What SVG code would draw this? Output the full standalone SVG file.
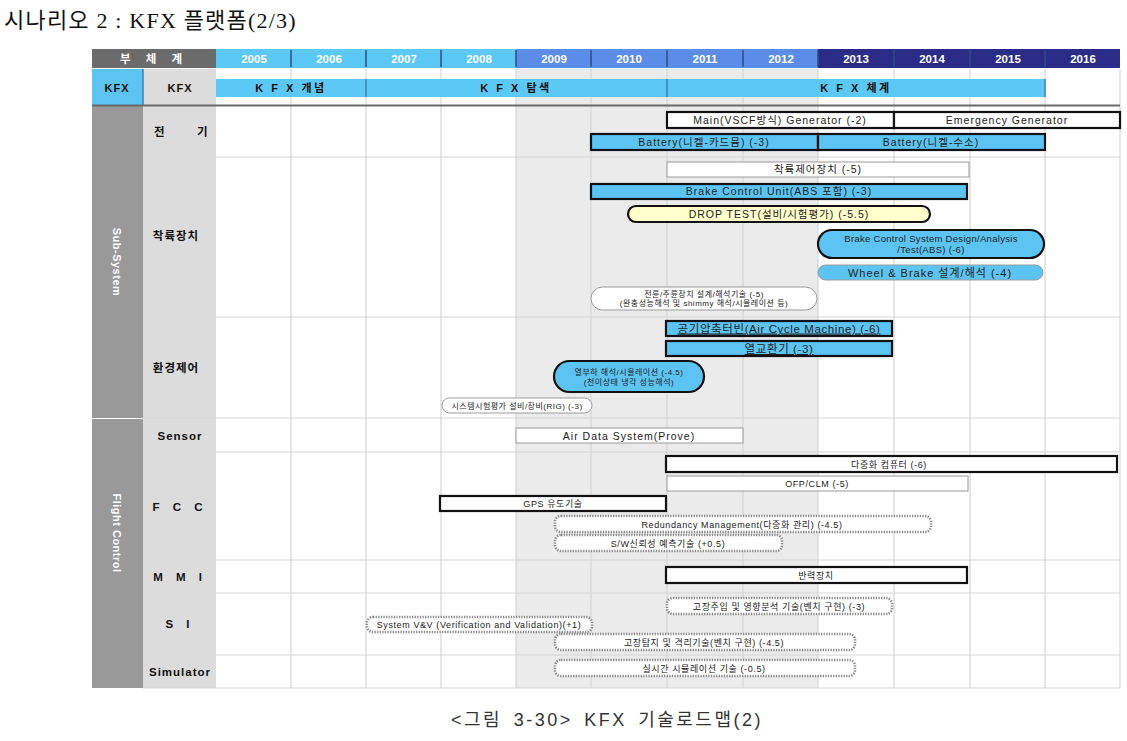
<svg xmlns="http://www.w3.org/2000/svg" width="1127" height="741" viewBox="0 0 1127 741">
<style>
.t{font-family:"Liberation Sans","Noto Sans CJK KR",sans-serif;font-size:10.5px;fill:#222;text-anchor:middle;letter-spacing:1px}
.s{font-family:"Liberation Sans","Noto Sans CJK KR",sans-serif;font-size:9px;fill:#222;text-anchor:middle;letter-spacing:0.6px}
.xs{font-family:"Liberation Sans","Noto Sans CJK KR",sans-serif;font-size:8px;fill:#222;text-anchor:middle;letter-spacing:0.5px}
.yr{font-family:"Liberation Sans","Noto Sans CJK KR",sans-serif;font-size:11.5px;font-weight:bold;fill:#fff;text-anchor:middle}
.lb{font-family:"Liberation Sans","Noto Sans CJK KR",sans-serif;font-size:11.5px;font-weight:bold;fill:#111;text-anchor:middle;letter-spacing:1px}
.kb{font-family:"Liberation Sans","Noto Sans CJK KR",sans-serif;font-size:11px;font-weight:bold;fill:#111;text-anchor:middle;letter-spacing:1px}
.vb{font-family:"Liberation Sans","Noto Sans CJK KR",sans-serif;font-size:11px;font-weight:bold;fill:#fff;text-anchor:middle;letter-spacing:0.5px}
.g{stroke:#d6d6d6;stroke-width:1.2}
.thick{stroke:#111;stroke-width:2.2}
.thin{stroke:#9a9a9a;stroke-width:1}
.blue{fill:#5cc4f2}
.white{fill:#fff}
.dot{fill:#fff;stroke:#8a8a8a;stroke-width:2.6;stroke-dasharray:1.3 1.3}
</style>
<rect width="1127" height="741" fill="#fff"/>
<text x="4" y="28" style="font-family:'Liberation Serif','Noto Sans CJK KR',serif;font-size:22px;letter-spacing:1.2px;fill:#111">시나리오 2 : KFX 플랫폼(2/3)</text>

<!-- background structure -->
<g id="grid">
<rect x="516" y="69" width="302" height="619" fill="#ebebeb"/>
<rect x="92" y="106" width="51" height="312" fill="#999"/>
<rect x="92" y="419" width="51" height="269" fill="#999"/>
<rect x="143" y="69" width="73" height="619" fill="#dcdcdc"/>
<rect x="92" y="69" width="51" height="36" fill="#5cc4f2"/>
<line x1="143" y1="69" x2="143" y2="105" stroke="#2f86b8" stroke-width="1.5"/>
<g class="g">
<line x1="291" y1="69" x2="291" y2="688"/><line x1="366" y1="69" x2="366" y2="688"/>
<line x1="441" y1="69" x2="441" y2="688"/><line x1="516" y1="69" x2="516" y2="688"/>
<line x1="591" y1="69" x2="591" y2="688"/><line x1="667" y1="69" x2="667" y2="688"/>
<line x1="743" y1="69" x2="743" y2="688"/><line x1="818" y1="69" x2="818" y2="688"/>
<line x1="894" y1="69" x2="894" y2="688"/><line x1="970" y1="69" x2="970" y2="688"/>
<line x1="1045" y1="69" x2="1045" y2="688"/><line x1="1120" y1="69" x2="1120" y2="688"/>
<line x1="216" y1="157" x2="1120" y2="157"/><line x1="216" y1="317" x2="1120" y2="317"/>
<line x1="143" y1="418" x2="1120" y2="418"/><line x1="216" y1="452" x2="1120" y2="452"/>
<line x1="216" y1="560" x2="1120" y2="560"/><line x1="216" y1="593" x2="1120" y2="593"/>
<line x1="216" y1="655" x2="1120" y2="655"/><line x1="143" y1="688" x2="1120" y2="688"/>
</g>
<line x1="92" y1="105.5" x2="1120" y2="105.5" stroke="#6a6a6a" stroke-width="2"/>
</g>

<!-- header -->
<g id="header">
<rect x="92" y="49" width="124" height="19" fill="#6b6b6b"/>
<text x="154" y="63" class="yr" style="letter-spacing:6px">부 체 계</text>
<g fill="#5cc8f5">
<rect x="216" y="49" width="75" height="19"/><rect x="291" y="49" width="75" height="19"/>
<rect x="366" y="49" width="75" height="19"/><rect x="441" y="49" width="75" height="19"/>
</g>
<g fill="#5a8ce8">
<rect x="516" y="49" width="75" height="19"/><rect x="591" y="49" width="76" height="19"/>
<rect x="667" y="49" width="76" height="19"/><rect x="743" y="49" width="75" height="19"/>
</g>
<g fill="#2b2b88">
<rect x="818" y="49" width="76" height="19"/><rect x="894" y="49" width="76" height="19"/>
<rect x="970" y="49" width="75" height="19"/><rect x="1045" y="49" width="75" height="19"/>
</g>
<g stroke="#2a4f8a" stroke-width="1.5">
<line x1="291" y1="50" x2="291" y2="67"/><line x1="366" y1="50" x2="366" y2="67"/><line x1="441" y1="50" x2="441" y2="67"/>
<line x1="516" y1="50" x2="516" y2="67"/><line x1="591" y1="50" x2="591" y2="67"/><line x1="667" y1="50" x2="667" y2="67"/>
<line x1="743" y1="50" x2="743" y2="67"/><line x1="818" y1="50" x2="818" y2="67"/><line x1="894" y1="50" x2="894" y2="67"/>
<line x1="970" y1="50" x2="970" y2="67"/><line x1="1045" y1="50" x2="1045" y2="67"/>
</g>
<text x="254" y="63" class="yr">2005</text><text x="329" y="63" class="yr">2006</text>
<text x="404" y="63" class="yr">2007</text><text x="479" y="63" class="yr">2008</text>
<text x="554" y="63" class="yr">2009</text><text x="629" y="63" class="yr">2010</text>
<text x="705" y="63" class="yr">2011</text><text x="781" y="63" class="yr">2012</text>
<text x="856" y="63" class="yr">2013</text><text x="932" y="63" class="yr">2014</text>
<text x="1008" y="63" class="yr">2015</text><text x="1083" y="63" class="yr">2016</text>
</g>

<!-- KFX row -->
<g id="kfx">
<text x="117" y="92" class="kb">KFX</text>
<text x="180" y="92" class="kb">KFX</text>
<rect x="216" y="79" width="150" height="18" fill="#5cc8f5"/>
<rect x="366" y="79" width="301" height="18" fill="#5cc8f5"/>
<rect x="667" y="79" width="378" height="18" fill="#5cc8f5"/>
<g stroke="#3a7fb0" stroke-width="1.5"><line x1="366" y1="79" x2="366" y2="97"/><line x1="667" y1="79" x2="667" y2="97"/><line x1="1045" y1="79" x2="1045" y2="97"/></g>
<text x="291" y="92" class="kb" style="letter-spacing:2.5px">K F X 개념</text>
<text x="516" y="92" class="kb" style="letter-spacing:2.5px">K F X 탐색</text>
<text x="856" y="92" class="kb" style="letter-spacing:2.5px">K F X 체계</text>
</g>

<!-- band labels -->
<g id="bands">
<text class="vb" transform="translate(113,262) rotate(90)">Sub-System</text>
<text class="vb" transform="translate(113,533) rotate(90)">Flight Control</text>
</g>
<g id="rowlabels">
<text x="154" y="136" class="lb" style="text-anchor:start">전</text>
<text x="197" y="136" class="lb" style="text-anchor:start">기</text>
<text x="176" y="240" class="lb">착륙장치</text>
<text x="176" y="372" class="lb">환경제어</text>
<text x="180" y="440" class="lb">Sensor</text>
<text x="180" y="511" class="lb" style="letter-spacing:5px">F C C</text>
<text x="180" y="581" class="lb" style="letter-spacing:5px">M M I</text>
<text x="180" y="628" class="lb" style="letter-spacing:5px">S I</text>
<text x="180" y="676" class="lb">Simulator</text>
</g>

<!-- 전기 -->
<g id="n-main"><rect x="667" y="112" width="227" height="16" class="white thick"/><text x="780" y="124" class="t">Main(VSCF방식) Generator (-2)</text></g>
<g id="n-emg"><rect x="894" y="112" width="226" height="16" class="white thick"/><text x="1007" y="124" class="t">Emergency Generator</text></g>
<g id="n-bat1"><rect x="591" y="134" width="227" height="16" class="blue thick"/><text x="704" y="146" class="t">Battery(니켈-카드뮴) (-3)</text></g>
<g id="n-bat2"><rect x="818" y="134" width="227" height="16" class="blue thick"/><text x="931" y="146" class="t">Battery(니켈-수소)</text></g>

<!-- 착륙장치 -->
<g id="n-lgc"><rect x="667" y="162" width="302" height="15" class="white thin"/><text x="818" y="173" class="t">착륙제어장치 (-5)</text></g>
<g id="n-bcu"><rect x="591" y="184" width="376" height="15" class="blue thick"/><text x="779" y="195" class="t">Brake Control Unit(ABS 포함) (-3)</text></g>
<g id="n-drop"><rect x="628" y="206" width="302" height="16" rx="8" fill="#ffffcc" class="thick"/><text x="779" y="218" class="t">DROP TEST(설비/시험평가) (-5.5)</text></g>
<g id="n-bcs"><rect x="818" y="230" width="226" height="28" rx="14" class="blue thick"/><text x="931" y="242" class="s" style="font-size:9.5px;letter-spacing:0.3px">Brake Control System Design/Analysis</text><text x="931" y="253" class="s" style="font-size:9.5px;letter-spacing:0.3px">/Test(ABS) (-6)</text></g>
<g id="n-wheel"><rect x="818" y="265" width="225" height="15" rx="7.5" class="blue thin"/><text x="930" y="276.5" class="t" style="font-size:11px">Wheel &amp; Brake 설계/해석 (-4)</text></g>
<g id="n-gear"><rect x="591" y="287" width="226" height="23" rx="11.5" class="white thin"/><text x="704" y="297" class="xs">전륜/주륜장치 설계/해석기술 (-5)</text><text x="704" y="306" class="xs">(완충성능해석 및 shimmy 해석/시뮬레이션 등)</text></g>

<!-- 환경제어 -->
<g id="n-acm"><rect x="666" y="321" width="226" height="15" class="blue thick"/><text x="779" y="332.5" class="t" style="font-size:11.5px;letter-spacing:0.6px;text-decoration:underline">공기압축터빈(Air Cycle Machine) (-6)</text></g>
<g id="n-hx"><rect x="666" y="341" width="226" height="15" class="blue thick"/><text x="779" y="353" class="t" style="font-size:11.5px;letter-spacing:0.6px;text-decoration:underline">열교환기 (-3)</text></g>
<g id="n-heat"><rect x="554" y="361" width="150" height="31" rx="15.5" class="blue thick"/><text x="629" y="375" class="xs">열부하 해석/시뮬레이션 (-4.5)</text><text x="629" y="385" class="xs">(천이상태 냉각 성능해석)</text></g>
<g id="n-rig"><rect x="442" y="398" width="150" height="15" rx="7.5" class="white thin"/><text x="517" y="409" class="xs">시스템시험평가 설비/장비(RIG) (-3)</text></g>

<!-- Flight control -->
<g id="n-ads"><rect x="516" y="428" width="227" height="15" class="white thin"/><text x="629" y="440" class="t">Air Data System(Prove)</text></g>
<g id="n-mcomp"><rect x="666" y="456" width="451" height="16" class="white thick"/><text x="889" y="468" class="s">다중화 컴퓨터 (-6)</text></g>
<g id="n-ofp"><rect x="667" y="476" width="301" height="15" class="white thin"/><text x="817" y="487" class="s">OFP/CLM (-5)</text></g>
<g id="n-gps"><rect x="440" y="496" width="226" height="15" class="white thick"/><text x="553" y="507" class="s">GPS 유도기술</text></g>
<g id="n-red"><rect x="555" y="516" width="376" height="16" rx="6" class="dot"/><text x="742" y="528" class="s">Redundancy Management(다중화 관리) (-4.5)</text></g>
<g id="n-sw"><rect x="555" y="535" width="227" height="16" rx="6" class="dot"/><text x="668" y="547" class="s">S/W신뢰성 예측기술 (+0.5)</text></g>
<g id="n-force"><rect x="666" y="567" width="301" height="16" class="white thick"/><text x="816" y="579" class="s">반력장치</text></g>
<g id="n-fault"><rect x="667" y="598" width="225" height="16" rx="6" class="dot"/><text x="779" y="610" class="s">고장주입 및 영향분석 기술(벤치 구현) (-3)</text></g>
<g id="n-vv"><rect x="367" y="617" width="225" height="15" rx="6" class="dot"/><text x="479" y="628" class="s">System V&amp;V (Verification and Validation)(+1)</text></g>
<g id="n-fdi"><rect x="555" y="634" width="300" height="16" rx="6" class="dot"/><text x="704" y="646" class="s">고장탐지 및 격리기술(벤치 구현) (-4.5)</text></g>
<g id="n-rts"><rect x="555" y="660" width="300" height="16" rx="6" class="dot"/><text x="704" y="672" class="s">실시간 시뮬레이션 기술 (-0.5)</text></g>

<g id="connectors"></g>

<text x="607" y="726" style="font-family:'Liberation Sans','Noto Sans CJK KR',sans-serif;font-size:18px;letter-spacing:2.5px;word-spacing:4px;fill:#333;text-anchor:middle">&lt;그림 3-30&gt; KFX 기술로드맵(2)</text>
</svg>
